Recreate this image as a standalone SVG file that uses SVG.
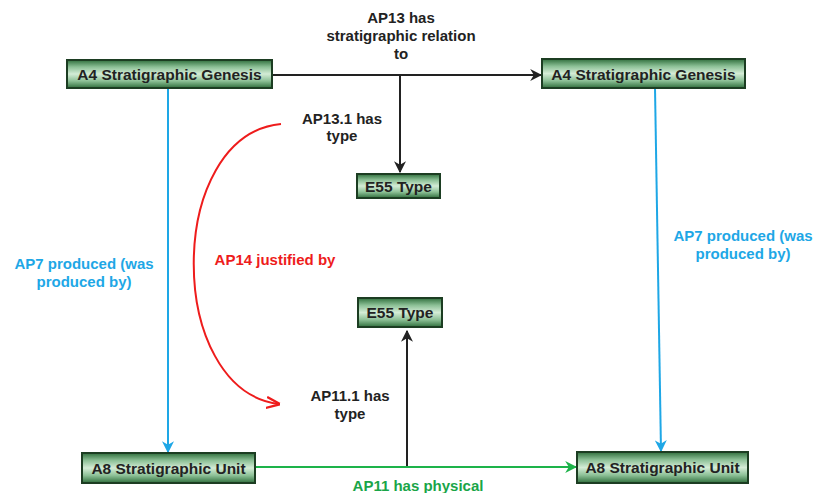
<svg xmlns="http://www.w3.org/2000/svg" width="816" height="493" viewBox="0 0 816 493">
<defs>
<linearGradient id="g" x1="0" y1="0" x2="0" y2="1">
<stop offset="0" stop-color="#2f6e3c"/>
<stop offset="0.25" stop-color="#8cc096"/>
<stop offset="0.5" stop-color="#d4ecd6"/>
<stop offset="0.75" stop-color="#8cc096"/>
<stop offset="1" stop-color="#2f6e3c"/>
</linearGradient>
<marker id="ab" viewBox="0 0 10 10" refX="9" refY="5" markerWidth="12" markerHeight="12" markerUnits="userSpaceOnUse" orient="auto"><path d="M0,0 L10,5 L0,10 L3,5 z" fill="#222"/></marker>
<marker id="ag" viewBox="0 0 10 10" refX="9" refY="5" markerWidth="12" markerHeight="12" markerUnits="userSpaceOnUse" orient="auto"><path d="M0,0 L10,5 L0,10 L3,5 z" fill="#1db34a"/></marker>
<marker id="ac" viewBox="0 0 10 10" refX="9" refY="5" markerWidth="12" markerHeight="12" markerUnits="userSpaceOnUse" orient="auto"><path d="M0,0 L10,5 L0,10 L3,5 z" fill="#1ea7e6"/></marker>
<marker id="ar" viewBox="0 0 10 10" refX="9" refY="5" markerWidth="14" markerHeight="14" markerUnits="userSpaceOnUse" orient="auto"><path d="M0,1 L10,5 L0,9" fill="none" stroke="#ee1c1c" stroke-width="1.6"/></marker>
</defs>
<style>
.box{fill:url(#g);stroke:#1c3d22;stroke-width:2}
.bt{font-family:"Liberation Sans",Arial,sans-serif;font-weight:bold;font-size:15.5px;fill:#222;text-anchor:middle}
.lb{font-family:"Liberation Sans",Arial,sans-serif;font-weight:bold;font-size:15px;text-anchor:middle}
.k{fill:#222}.c{fill:#1ea7e6}.r{fill:#ee1c1c}.gr{fill:#1aa548}
</style>
<g id="connectors" fill="none">
<line x1="273" y1="75" x2="541" y2="75" stroke="#222" stroke-width="2" marker-end="url(#ab)"/>
<line x1="400" y1="75" x2="400" y2="172" stroke="#222" stroke-width="2" marker-end="url(#ab)"/>
<line x1="407" y1="467" x2="407" y2="331" stroke="#222" stroke-width="2" marker-end="url(#ab)"/>
<line x1="255" y1="467" x2="576" y2="467" stroke="#1db34a" stroke-width="2" marker-end="url(#ag)"/>
<line x1="168" y1="88" x2="168" y2="452" stroke="#1ea7e6" stroke-width="2" marker-end="url(#ac)"/>
<line x1="655" y1="88" x2="661" y2="451" stroke="#1ea7e6" stroke-width="2" marker-end="url(#ac)"/>
<path d="M281,124 C165,135 165,390 279,404" stroke="#ee1c1c" stroke-width="2" marker-end="url(#ar)"/>
</g>
<g id="n1"><rect class="box" x="67" y="60" width="205" height="28"/><text class="bt" x="169.5" y="79.5">A4 Stratigraphic Genesis</text></g>
<g id="n2"><rect class="box" x="542" y="59" width="203" height="29"/><text class="bt" x="643.5" y="79.5">A4 Stratigraphic Genesis</text></g>
<g id="n3"><rect class="box" x="357" y="174" width="83" height="24"/><text class="bt" x="398.5" y="191.5">E55 Type</text></g>
<g id="n4"><rect class="box" x="358" y="298" width="84" height="29"/><text class="bt" x="400" y="318">E55 Type</text></g>
<g id="n5"><rect class="box" x="82" y="453" width="173" height="30"/><text class="bt" x="168.5" y="473.5">A8 Stratigraphic Unit</text></g>
<g id="n6"><rect class="box" x="577" y="452" width="171" height="31"/><text class="bt" x="662.5" y="473">A8 Stratigraphic Unit</text></g>
<g id="labels">
<text class="lb k" x="401" y="23">AP13 has</text>
<text class="lb k" x="401" y="41">stratigraphic relation</text>
<text class="lb k" x="401" y="59">to</text>
<text class="lb k" x="342" y="124">AP13.1 has</text>
<text class="lb k" x="342" y="141">type</text>
<text class="lb r" x="275" y="265">AP14  justified by</text>
<text class="lb k" x="350" y="401">AP11.1 has</text>
<text class="lb k" x="350" y="419">type</text>
<text class="lb gr" x="418" y="491">AP11 has physical</text>
<text class="lb c" x="84" y="269">AP7 produced (was</text>
<text class="lb c" x="84" y="287">produced by)</text>
<text class="lb c" x="743" y="241">AP7 produced (was</text>
<text class="lb c" x="743" y="259">produced by)</text>
</g>
</svg>
